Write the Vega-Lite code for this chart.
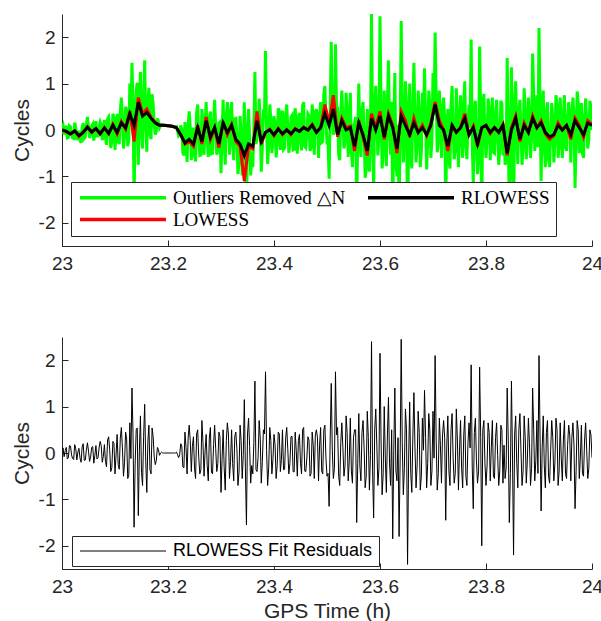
{
"$schema":"https://vega.github.io/schema/vega-lite/v6.json",
"padding":{"left":11,"top":14,"right":0,"bottom":0},
"background":"white",
"config":{
 "view":{"stroke":null},
 "font":"Liberation Sans",
 "axis":{"grid":false,"domainColor":"#262626","domainWidth":1,"tickColor":"#262626","tickSize":-6,"labelColor":"#262626","titleColor":"#262626","labelFont":"Liberation Sans","titleFont":"Liberation Sans","labelFontSize":19,"titleFontSize":21,"titleFontWeight":"normal"}
},
"resolve":{"scale":{"color":"independent","x":"independent","y":"independent"},"legend":{"color":"independent"}},
"spacing":64,
"datasets":{
"raw":[
{"t":23.000,"g":0.05,"e":0.05},{"t":23.004,"g":-0.10,"e":-0.08},{"t":23.008,"g":0.09,"e":0.12},{"t":23.012,"g":-0.16,"e":-0.10},{"t":23.016,"g":0.07,"e":0.15},{"t":23.020,"g":-0.17,"e":-0.12},{"t":23.024,"g":0.16,"e":0.18},{"t":23.028,"g":-0.22,"e":-0.15},{"t":23.032,"g":-0.02,"e":0.10},{"t":23.036,"g":-0.28,"e":-0.20},
{"t":23.040,"g":0.15,"e":0.20},{"t":23.044,"g":-0.15,"e":-0.15},{"t":23.048,"g":0.28,"e":0.22},{"t":23.052,"g":-0.17,"e":-0.18},{"t":23.056,"g":0.08,"e":0.12},{"t":23.060,"g":-0.23,"e":-0.22},{"t":23.064,"g":0.19,"e":0.16},{"t":23.068,"g":-0.13,"e":-0.10},{"t":23.072,"g":0.17,"e":0.25},{"t":23.076,"g":-0.22,"e":-0.20},
{"t":23.080,"g":0.22,"e":0.18},{"t":23.084,"g":-0.32,"e":-0.30},{"t":23.088,"g":0.28,"e":0.35},{"t":23.092,"g":-0.39,"e":-0.40},{"t":23.096,"g":0.35,"e":0.25},{"t":23.100,"g":-0.43,"e":-0.45},{"t":23.104,"g":0.35,"e":0.40},{"t":23.108,"g":-0.30,"e":-0.35},{"t":23.112,"g":0.70,"e":0.55},{"t":23.116,"g":-0.40,"e":-0.50},
{"t":23.120,"g":0.50,"e":0.45},{"t":23.124,"g":-0.35,"e":-0.55},{"t":23.128,"g":1.00,"e":0.65},{"t":23.132,"g":1.45,"e":1.40},{"t":23.136,"g":-1.50,"e":-1.60},{"t":23.140,"g":0.85,"e":0.50},{"t":23.144,"g":-0.75,"e":-1.35},{"t":23.148,"g":1.25,"e":0.80},{"t":23.152,"g":-0.40,"e":-0.70},{"t":23.156,"g":1.50,"e":1.05},
{"t":23.160,"g":-0.47,"e":-0.85},{"t":23.164,"g":0.91,"e":0.60},{"t":23.168,"g":-0.20,"e":-0.45},{"t":23.172,"g":0.55,"e":0.35},{"t":23.176,"g":-0.10,"e":-0.25},{"t":23.180,"g":0.25,"e":0.12},{"t":23.184,"g":0.05,"e":-0.05},{"t":23.188,"g":0.12,"e":0.02},{"t":23.192,"g":0.10,"e":0.00},{"t":23.196,"g":0.10,"e":0.00},
{"t":23.200,"g":0.09,"e":0.00},{"t":23.204,"g":0.085,"e":0.00},{"t":23.208,"g":0.08,"e":0.00},{"t":23.212,"g":0.065,"e":0.00},{"t":23.216,"g":0.07,"e":0.02},{"t":23.220,"g":-0.125,"e":-0.10},{"t":23.224,"g":0.10,"e":0.20},{"t":23.228,"g":-0.49,"e":-0.30},{"t":23.232,"g":0.17,"e":0.45},{"t":23.236,"g":-0.69,"e":-0.45},
{"t":23.240,"g":0.40,"e":0.60},{"t":23.244,"g":-0.65,"e":-0.40},{"t":23.248,"g":0.05,"e":0.35},{"t":23.252,"g":-0.68,"e":-0.55},{"t":23.256,"g":0.55,"e":0.50},{"t":23.260,"g":-0.55,"e":-0.45},{"t":23.264,"g":0.45,"e":0.70},{"t":23.268,"g":-0.53,"e":-0.50},{"t":23.272,"g":0.60,"e":0.40},{"t":23.276,"g":-0.58,"e":-0.60},
{"t":23.280,"g":0.40,"e":0.55},{"t":23.284,"g":-0.50,"e":-0.45},{"t":23.288,"g":0.65,"e":0.60},{"t":23.292,"g":-0.53,"e":-0.40},{"t":23.296,"g":0.15,"e":0.45},{"t":23.300,"g":-0.93,"e":-0.85},{"t":23.304,"g":0.65,"e":0.50},{"t":23.308,"g":-0.75,"e":-0.80},{"t":23.312,"g":0.60,"e":0.65},{"t":23.316,"g":-0.53,"e":-0.55},
{"t":23.320,"g":0.60,"e":0.50},{"t":23.324,"g":-0.65,"e":-0.60},{"t":23.328,"g":0.25,"e":0.45},{"t":23.332,"g":-0.95,"e":-0.70},{"t":23.336,"g":0.30,"e":0.60},{"t":23.340,"g":-0.98,"e":-0.55},{"t":23.344,"g":0.60,"e":1.15},{"t":23.348,"g":-1.98,"e":-1.55},{"t":23.352,"g":0.45,"e":0.75},{"t":23.356,"g":-0.98,"e":-0.65},
{"t":23.360,"g":-0.80,"e":-0.45},{"t":23.364,"g":1.25,"e":1.55},{"t":23.368,"g":-0.20,"e":-0.40},{"t":23.372,"g":0.68,"e":0.70},{"t":23.376,"g":-0.90,"e":-0.65},{"t":23.380,"g":0.35,"e":0.50},{"t":23.384,"g":1.70,"e":1.75},{"t":23.388,"g":-0.73,"e":-0.70},{"t":23.392,"g":0.55,"e":0.55},{"t":23.396,"g":-0.50,"e":-0.45},
{"t":23.400,"g":0.30,"e":0.40},{"t":23.404,"g":-0.59,"e":-0.55},{"t":23.408,"g":0.47,"e":0.45},{"t":23.412,"g":-0.43,"e":-0.40},{"t":23.416,"g":0.42,"e":0.50},{"t":23.420,"g":-0.39,"e":-0.35},{"t":23.424,"g":0.55,"e":0.55},{"t":23.428,"g":-0.49,"e":-0.45},{"t":23.432,"g":0.27,"e":0.35},{"t":23.436,"g":-0.43,"e":-0.40},
{"t":23.440,"g":0.47,"e":0.45},{"t":23.444,"g":-0.51,"e":-0.50},{"t":23.448,"g":0.37,"e":0.40},{"t":23.452,"g":-0.44,"e":-0.45},{"t":23.456,"g":0.60,"e":0.55},{"t":23.460,"g":-0.38,"e":-0.40},{"t":23.464,"g":0.35,"e":0.35},{"t":23.468,"g":-0.45,"e":-0.50},{"t":23.472,"g":0.55,"e":0.45},{"t":23.476,"g":-0.53,"e":-0.55},
{"t":23.480,"g":0.45,"e":0.50},{"t":23.484,"g":-0.60,"e":-0.60},{"t":23.488,"g":0.60,"e":0.55},{"t":23.492,"g":-0.25,"e":-0.45},{"t":23.496,"g":0.95,"e":0.60},{"t":23.500,"g":-0.28,"e":-0.50},{"t":23.504,"g":-1.05,"e":-1.15},{"t":23.508,"g":1.90,"e":1.50},{"t":23.512,"g":-0.10,"e":-0.55},{"t":23.516,"g":1.85,"e":1.75},
{"t":23.520,"g":0.45,"e":0.55},{"t":23.524,"g":-0.65,"e":-0.70},{"t":23.528,"g":0.85,"e":0.65},{"t":23.532,"g":-0.40,"e":-0.50},{"t":23.536,"g":0.80,"e":0.80},{"t":23.540,"g":-0.58,"e":-0.60},{"t":23.544,"g":0.80,"e":0.75},{"t":23.548,"g":-0.80,"e":-0.65},{"t":23.552,"g":0.15,"e":0.50},{"t":23.556,"g":-1.60,"e":-1.50},
{"t":23.560,"g":1.00,"e":0.85},{"t":23.564,"g":-0.58,"e":-0.60},{"t":23.568,"g":0.60,"e":0.70},{"t":23.572,"g":-1.03,"e":-0.75},{"t":23.576,"g":0.45,"e":0.90},{"t":23.580,"g":-0.90,"e":-0.80},{"t":23.584,"g":2.50,"e":2.40},{"t":23.588,"g":-1.28,"e":-1.40},{"t":23.592,"g":0.95,"e":0.95},{"t":23.596,"g":-0.55,"e":-0.70},
{"t":23.600,"g":2.45,"e":2.15},{"t":23.604,"g":-0.83,"e":-0.90},{"t":23.608,"g":0.85,"e":1.00},{"t":23.612,"g":-0.78,"e":-0.85},{"t":23.616,"g":1.50,"e":1.20},{"t":23.620,"g":-0.53,"e":-0.70},{"t":23.624,"g":-1.80,"e":-1.85},{"t":23.628,"g":1.23,"e":1.40},{"t":23.632,"g":-1.00,"e":-0.60},{"t":23.636,"g":-1.85,"e":-1.80},
{"t":23.640,"g":2.35,"e":2.45},{"t":23.644,"g":-0.70,"e":-0.90},{"t":23.648,"g":1.05,"e":0.95},{"t":23.652,"g":-2.30,"e":-2.40},{"t":23.656,"g":1.00,"e":1.10},{"t":23.660,"g":-0.83,"e":-0.85},{"t":23.664,"g":1.45,"e":1.30},{"t":23.668,"g":-0.70,"e":-0.75},{"t":23.672,"g":0.85,"e":0.90},{"t":23.676,"g":-0.80,"e":-0.80},
{"t":23.680,"g":0.80,"e":0.75},{"t":23.684,"g":1.33,"e":1.35},{"t":23.688,"g":-0.85,"e":-0.75},{"t":23.692,"g":0.85,"e":0.85},{"t":23.696,"g":-0.60,"e":-0.70},{"t":23.700,"g":1.23,"e":0.90},{"t":23.704,"g":2.10,"e":2.10},{"t":23.708,"g":-0.48,"e":-0.80},{"t":23.712,"g":0.85,"e":0.75},{"t":23.716,"g":-0.60,"e":-0.65},
{"t":23.720,"g":0.70,"e":0.70},{"t":23.724,"g":-1.63,"e":-1.45},{"t":23.728,"g":0.45,"e":0.80},{"t":23.732,"g":-0.83,"e":-0.70},{"t":23.736,"g":0.95,"e":0.85},{"t":23.740,"g":-0.63,"e":-0.65},{"t":23.744,"g":0.90,"e":0.95},{"t":23.748,"g":-0.80,"e":-0.80},{"t":23.752,"g":0.75,"e":0.70},{"t":23.756,"g":-0.60,"e":-0.75},
{"t":23.760,"g":1.05,"e":0.80},{"t":23.764,"g":-0.63,"e":-0.70},{"t":23.768,"g":0.55,"e":0.65},{"t":23.772,"g":1.95,"e":1.90},{"t":23.776,"g":-1.15,"e":-1.20},{"t":23.780,"g":0.63,"e":0.75},{"t":23.784,"g":-0.95,"e":-0.65},{"t":23.788,"g":1.80,"e":1.85},{"t":23.792,"g":-1.95,"e":-2.00},{"t":23.796,"g":0.78,"e":0.70},
{"t":23.800,"g":-0.60,"e":-0.70},{"t":23.804,"g":0.68,"e":0.65},{"t":23.808,"g":-0.65,"e":-0.60},{"t":23.812,"g":0.70,"e":0.70},{"t":23.816,"g":-0.50,"e":-0.55},{"t":23.820,"g":0.65,"e":0.65},{"t":23.824,"g":-0.75,"e":-0.70},{"t":23.828,"g":0.63,"e":0.60},{"t":23.832,"g":-0.55,"e":-0.65},{"t":23.836,"g":-0.75,"e":-0.55},
{"t":23.840,"g":1.55,"e":1.40},{"t":23.844,"g":-1.75,"e":-1.50},{"t":23.848,"g":1.35,"e":1.55},{"t":23.852,"g":-2.30,"e":-2.20},{"t":23.856,"g":1.05,"e":0.80},{"t":23.860,"g":-0.73,"e":-0.75},{"t":23.864,"g":0.65,"e":0.85},{"t":23.868,"g":-0.75,"e":-0.70},{"t":23.872,"g":0.90,"e":0.80},{"t":23.876,"g":-0.63,"e":-0.65},
{"t":23.880,"g":0.70,"e":0.75},{"t":23.884,"g":-0.60,"e":-0.70},{"t":23.888,"g":1.65,"e":1.40},{"t":23.892,"g":-0.45,"e":-0.60},{"t":23.896,"g":0.75,"e":0.70},{"t":23.900,"g":2.20,"e":2.10},{"t":23.904,"g":-1.10,"e":-1.25},{"t":23.908,"g":0.85,"e":0.80},{"t":23.912,"g":-0.80,"e":-0.75},{"t":23.916,"g":0.60,"e":0.70},
{"t":23.920,"g":-0.80,"e":-0.65},{"t":23.924,"g":0.58,"e":0.70},{"t":23.928,"g":-0.70,"e":-0.60},{"t":23.932,"g":0.75,"e":0.75},{"t":23.936,"g":-0.60,"e":-0.70},{"t":23.940,"g":0.70,"e":0.65},{"t":23.944,"g":-0.60,"e":-0.60},{"t":23.948,"g":0.75,"e":0.70},{"t":23.952,"g":-0.45,"e":-0.55},{"t":23.956,"g":0.60,"e":0.60},
{"t":23.960,"g":-0.70,"e":-0.60},{"t":23.964,"g":0.70,"e":0.65},{"t":23.968,"g":-1.25,"e":-1.20},{"t":23.972,"g":0.83,"e":0.70},{"t":23.976,"g":-0.50,"e":-0.55},{"t":23.980,"g":0.58,"e":0.60},{"t":23.984,"g":-0.60,"e":-0.50},{"t":23.988,"g":0.68,"e":0.65},{"t":23.992,"g":-0.40,"e":-0.55},{"t":23.996,"g":0.63,"e":0.50},
{"t":24.000,"g":0.00,"e":-0.10},
{"t":23.002,"g":0.10,"e":0.11},{"t":23.006,"g":0.03,"e":0.05},{"t":23.010,"g":-0.17,"e":-0.13},{"t":23.014,"g":0.09,"e":0.16},{"t":23.018,"g":-0.10,"e":-0.04},{"t":23.022,"g":-0.18,"e":-0.14},{"t":23.026,"g":0.05,"e":0.09},{"t":23.030,"g":-0.08,"e":0.02},{"t":23.034,"g":-0.21,"e":-0.11},{"t":23.038,"g":0.06,"e":0.13},
{"t":23.042,"g":-0.18,"e":-0.16},{"t":23.046,"g":0.10,"e":0.07},{"t":23.050,"g":0.08,"e":0.04},{"t":23.054,"g":-0.11,"e":-0.09},{"t":23.058,"g":0.12,"e":0.14},{"t":23.062,"g":-0.04,"e":-0.05},{"t":23.066,"g":-0.13,"e":-0.13},{"t":23.070,"g":0.06,"e":0.11},{"t":23.074,"g":0.11,"e":0.16},{"t":23.078,"g":-0.06,"e":-0.07},
{"t":23.082,"g":-0.17,"e":-0.18},{"t":23.086,"g":0.24,"e":0.28},{"t":23.090,"g":0.04,"e":0.07},{"t":23.094,"g":-0.26,"e":-0.32},{"t":23.098,"g":0.27,"e":0.21},{"t":23.102,"g":-0.05,"e":-0.04},{"t":23.106,"g":-0.25,"e":-0.25},{"t":23.110,"g":0.42,"e":0.32},{"t":23.114,"g":0.24,"e":0.11},{"t":23.118,"g":-0.14,"e":-0.21},
{"t":23.122,"g":0.43,"e":0.30},{"t":23.126,"g":-0.21,"e":-0.48},{"t":23.130,"g":0.17,"e":-0.12},{"t":23.134,"g":0.58,"e":0.42},{"t":23.138,"g":-0.02,"e":-0.24},{"t":23.142,"g":1.02,"e":0.54},{"t":23.146,"g":0.59,"e":0.06},{"t":23.150,"g":-0.05,"e":-0.42},{"t":23.154,"g":0.68,"e":0.36},{"t":23.158,"g":0.18,"e":-0.18},
{"t":23.162,"g":0.59,"e":0.24},{"t":23.166,"g":-0.08,"e":-0.36},{"t":23.170,"g":0.77,"e":0.54},{"t":23.174,"g":0.09,"e":-0.09},{"t":23.178,"g":-0.02,"e":-0.16},{"t":23.182,"g":0.18,"e":0.07},{"t":23.186,"g":0.10,"e":0.00},{"t":23.190,"g":0.10,"e":0.00},{"t":23.194,"g":0.10,"e":0.00},{"t":23.198,"g":0.09,"e":0.00},
{"t":23.202,"g":0.09,"e":0.00},{"t":23.206,"g":0.08,"e":0.00},{"t":23.210,"g":0.07,"e":0.00},{"t":23.214,"g":0.06,"e":0.00},{"t":23.218,"g":-0.025,"e":-0.035},{"t":23.222,"g":-0.10,"e":-0.04},{"t":23.226,"g":0.005,"e":0.15},{"t":23.230,"g":-0.55,"e":-0.32},{"t":23.234,"g":-0.14,"e":0.12},{"t":23.238,"g":0.10,"e":0.32},
{"t":23.242,"g":0.05,"e":0.27},{"t":23.246,"g":-0.14,"e":0.14},{"t":23.250,"g":-0.53,"e":-0.32},{"t":23.254,"g":0.37,"e":0.41},{"t":23.258,"g":-0.12,"e":-0.09},{"t":23.262,"g":-0.54,"e":-0.36},{"t":23.266,"g":0.09,"e":0.23},{"t":23.270,"g":0.14,"e":0.05},{"t":23.274,"g":-0.16,"e":-0.27},{"t":23.278,"g":0.26,"e":0.32},
{"t":23.282,"g":-0.51,"e":-0.41},{"t":23.286,"g":0.18,"e":0.18},{"t":23.290,"g":0.05,"e":0.09},{"t":23.294,"g":-0.44,"e":-0.23},{"t":23.298,"g":0.17,"e":0.36},{"t":23.302,"g":-0.10,"e":-0.14},{"t":23.306,"g":-0.22,"e":-0.32},{"t":23.310,"g":0.27,"e":0.27},{"t":23.314,"g":0.40,"e":0.41},{"t":23.318,"g":-0.12,"e":-0.18},
{"t":23.322,"g":-0.21,"e":-0.23},{"t":23.326,"g":0.24,"e":0.36},{"t":23.330,"g":-0.14,"e":0.09},{"t":23.334,"g":-0.69,"e":-0.41},{"t":23.338,"g":-0.09,"e":0.27},{"t":23.342,"g":-0.54,"e":-0.05},{"t":23.346,"g":-0.81,"e":-0.32},{"t":23.350,"g":0.05,"e":0.41},{"t":23.354,"g":-0.17,"e":0.14},{"t":23.358,"g":-0.61,"e":-0.27},
{"t":23.362,"g":0.02,"e":0.23},{"t":23.366,"g":-0.30,"e":-0.36},{"t":23.370,"g":0.00,"e":-0.09},{"t":23.374,"g":0.18,"e":0.32},{"t":23.378,"g":-0.38,"e":-0.18},{"t":23.382,"g":0.31,"e":0.41},{"t":23.386,"g":0.01,"e":0.05},{"t":23.390,"g":-0.33,"e":-0.32},{"t":23.394,"g":0.25,"e":0.27},{"t":23.398,"g":-0.22,"e":-0.14},
{"t":23.402,"g":0.11,"e":0.18},{"t":23.406,"g":-0.28,"e":-0.27},{"t":23.410,"g":0.41,"e":0.41},{"t":23.414,"g":-0.20,"e":-0.14},{"t":23.418,"g":-0.42,"e":-0.36},{"t":23.422,"g":0.30,"e":0.32},{"t":23.426,"g":0.07,"e":0.09},{"t":23.430,"g":-0.29,"e":-0.23},{"t":23.434,"g":0.31,"e":0.36},{"t":23.438,"g":-0.42,"e":-0.41},
{"t":23.442,"g":0.06,"e":0.05},{"t":23.446,"g":0.25,"e":0.27},{"t":23.450,"g":-0.23,"e":-0.22},{"t":23.454,"g":0.53,"e":0.50},{"t":23.458,"g":-0.35,"e":-0.39},{"t":23.462,"g":-0.10,"e":-0.11},{"t":23.466,"g":0.31,"e":0.28},{"t":23.470,"g":-0.37,"e":-0.44},{"t":23.474,"g":0.23,"e":0.17},{"t":23.478,"g":0.38,"e":0.39},
{"t":23.482,"g":0.31,"e":0.33},{"t":23.486,"g":0.20,"e":0.17},{"t":23.490,"g":-0.27,"e":-0.39},{"t":23.494,"g":0.78,"e":0.50},{"t":23.498,"g":0.18,"e":-0.11},{"t":23.502,"g":-0.28,"e":-0.44},{"t":23.506,"g":0.47,"e":0.28},{"t":23.510,"g":0.42,"e":0.06},{"t":23.514,"g":-0.02,"e":-0.33},{"t":23.518,"g":0.43,"e":0.39},
{"t":23.522,"g":-0.53,"e":-0.50},{"t":23.526,"g":0.35,"e":0.22},{"t":23.530,"g":0.26,"e":0.11},{"t":23.534,"g":-0.23,"e":-0.28},{"t":23.538,"g":0.45,"e":0.44},{"t":23.542,"g":-0.13,"e":-0.17},{"t":23.546,"g":-0.44,"e":-0.39},{"t":23.550,"g":0.08,"e":0.33},{"t":23.554,"g":0.28,"e":0.50},{"t":23.558,"g":-0.20,"e":-0.22},
{"t":23.562,"g":-0.19,"e":-0.28},{"t":23.566,"g":0.40,"e":0.44},{"t":23.570,"g":-0.08,"e":0.11},{"t":23.574,"g":-0.86,"e":-0.50},{"t":23.578,"g":0.05,"e":0.33},{"t":23.582,"g":0.01,"e":-0.06},{"t":23.586,"g":-0.20,"e":-0.39},{"t":23.590,"g":0.56,"e":0.50},{"t":23.594,"g":0.25,"e":0.17},{"t":23.598,"g":-0.11,"e":-0.33},
{"t":23.602,"g":0.47,"e":0.28},{"t":23.606,"g":-0.48,"e":-0.44},{"t":23.610,"g":-0.15,"e":-0.11},{"t":23.614,"g":0.58,"e":0.39},{"t":23.618,"g":0.02,"e":-0.22},{"t":23.622,"g":0.61,"e":0.50},{"t":23.626,"g":0.00,"e":0.06},{"t":23.630,"g":-0.68,"e":-0.39},{"t":23.634,"g":0.11,"e":0.33},{"t":23.638,"g":-0.05,"e":-0.17},
{"t":23.642,"g":0.47,"e":0.22},{"t":23.646,"g":-0.18,"e":-0.33},{"t":23.650,"g":0.55,"e":0.50},{"t":23.654,"g":-0.22,"e":-0.17},{"t":23.658,"g":-0.48,"e":-0.44},{"t":23.662,"g":0.48,"e":0.39},{"t":23.666,"g":0.21,"e":0.11},{"t":23.670,"g":-0.28,"e":-0.28},{"t":23.674,"g":0.42,"e":0.44},{"t":23.678,"g":-0.48,"e":-0.50},
{"t":23.682,"g":0.07,"e":0.06},{"t":23.686,"g":0.27,"e":0.33},{"t":23.690,"g":-0.27,"e":-0.22},{"t":23.694,"g":0.55,"e":0.50},{"t":23.698,"g":-0.18,"e":-0.39},{"t":23.702,"g":0.33,"e":-0.11},{"t":23.706,"g":0.72,"e":0.28},{"t":23.710,"g":-0.23,"e":-0.44},{"t":23.714,"g":0.25,"e":0.17},{"t":23.718,"g":0.42,"e":0.39},
{"t":23.722,"g":0.24,"e":0.33},{"t":23.726,"g":-0.09,"e":0.17},{"t":23.730,"g":-0.63,"e":-0.39},{"t":23.734,"g":0.49,"e":0.50},{"t":23.738,"g":-0.05,"e":-0.11},{"t":23.742,"g":-0.45,"e":-0.44},{"t":23.746,"g":0.26,"e":0.28},{"t":23.750,"g":0.09,"e":0.06},{"t":23.754,"g":-0.23,"e":-0.33},{"t":23.758,"g":0.59,"e":0.39},
{"t":23.762,"g":-0.34,"e":-0.50},{"t":23.766,"g":0.21,"e":0.22},{"t":23.770,"g":0.05,"e":0.11},{"t":23.774,"g":-0.27,"e":-0.28},{"t":23.778,"g":0.40,"e":0.44},{"t":23.782,"g":-0.38,"e":-0.17},{"t":23.786,"g":-0.60,"e":-0.39},{"t":23.790,"g":0.29,"e":0.33},{"t":23.794,"g":0.56,"e":0.50},{"t":23.798,"g":-0.13,"e":-0.22},
{"t":23.802,"g":-0.22,"e":-0.28},{"t":23.806,"g":0.44,"e":0.44},{"t":23.810,"g":0.09,"e":0.11},{"t":23.814,"g":-0.48,"e":-0.50},{"t":23.818,"g":0.36,"e":0.33},{"t":23.822,"g":-0.09,"e":-0.06},{"t":23.826,"g":-0.40,"e":-0.39},{"t":23.830,"g":0.56,"e":0.50},{"t":23.834,"g":0.12,"e":0.17},{"t":23.838,"g":-0.68,"e":-0.33},
{"t":23.842,"g":-0.10,"e":0.28},{"t":23.846,"g":-0.57,"e":-0.44},{"t":23.850,"g":-0.05,"e":-0.11},{"t":23.854,"g":0.58,"e":0.39},{"t":23.858,"g":-0.08,"e":-0.22},{"t":23.862,"g":0.41,"e":0.50},{"t":23.866,"g":-0.07,"e":0.06},{"t":23.870,"g":-0.37,"e":-0.39},{"t":23.874,"g":0.39,"e":0.33},{"t":23.878,"g":-0.18,"e":-0.17},
{"t":23.882,"g":0.25,"e":0.22},{"t":23.886,"g":-0.16,"e":-0.33},{"t":23.890,"g":0.70,"e":0.50},{"t":23.894,"g":-0.07,"e":-0.17},{"t":23.898,"g":-0.37,"e":-0.44},{"t":23.902,"g":0.52,"e":0.39},{"t":23.906,"g":0.21,"e":0.11},{"t":23.910,"g":-0.28,"e":-0.28},{"t":23.914,"g":0.37,"e":0.44},{"t":23.918,"g":-0.63,"e":-0.50},
{"t":23.922,"g":-0.08,"e":0.06},{"t":23.926,"g":0.22,"e":0.33},{"t":23.930,"g":-0.27,"e":-0.22},{"t":23.934,"g":0.55,"e":0.50},{"t":23.938,"g":-0.32,"e":-0.39},{"t":23.942,"g":-0.09,"e":-0.11},{"t":23.946,"g":0.31,"e":0.28},{"t":23.950,"g":-0.37,"e":-0.44},{"t":23.954,"g":0.22,"e":0.17},{"t":23.958,"g":0.34,"e":0.39},
{"t":23.962,"g":0.31,"e":0.33},{"t":23.966,"g":0.30,"e":0.17},{"t":23.970,"g":-0.23,"e":-0.39},{"t":23.974,"g":0.59,"e":0.50},{"t":23.978,"g":-0.10,"e":-0.11},{"t":23.982,"g":-0.50,"e":-0.44},{"t":23.986,"g":0.24,"e":0.28},{"t":23.990,"g":0.15,"e":0.06},{"t":23.994,"g":-0.19,"e":-0.33},{"t":23.998,"g":0.50,"e":0.39}
],
"fit":[
{"t":23.000,"l":0.00,"r":0.00},{"t":23.008,"l":-0.03,"r":-0.03},{"t":23.016,"l":-0.09,"r":-0.08},{"t":23.024,"l":-0.02,"r":-0.02},{"t":23.032,"l":-0.14,"r":-0.12},{"t":23.040,"l":-0.05,"r":-0.05},{"t":23.048,"l":0.07,"r":0.06},{"t":23.056,"l":-0.05,"r":-0.04},{"t":23.064,"l":0.03,"r":0.03},{"t":23.072,"l":-0.09,"r":-0.08},
{"t":23.080,"l":0.05,"r":0.04},{"t":23.088,"l":-0.08,"r":-0.07},{"t":23.096,"l":0.12,"r":0.10},{"t":23.104,"l":-0.08,"r":-0.05},{"t":23.112,"l":0.18,"r":0.15},{"t":23.120,"l":0.02,"r":0.05},{"t":23.128,"l":0.40,"r":0.35},{"t":23.136,"l":-0.25,"r":0.10},{"t":23.144,"l":0.70,"r":0.60},{"t":23.152,"l":0.35,"r":0.30},
{"t":23.160,"l":0.45,"r":0.38},{"t":23.168,"l":0.27,"r":0.25},{"t":23.176,"l":0.16,"r":0.15},{"t":23.184,"l":0.10,"r":0.10},{"t":23.192,"l":0.10,"r":0.10},{"t":23.200,"l":0.09,"r":0.09},{"t":23.208,"l":0.08,"r":0.08},{"t":23.216,"l":0.05,"r":0.05},{"t":23.224,"l":-0.10,"r":-0.10},{"t":23.232,"l":-0.30,"r":-0.28},
{"t":23.240,"l":-0.25,"r":-0.20},{"t":23.248,"l":-0.35,"r":-0.30},{"t":23.256,"l":0.10,"r":0.05},{"t":23.264,"l":-0.30,"r":-0.25},{"t":23.272,"l":0.28,"r":0.20},{"t":23.280,"l":-0.20,"r":-0.15},{"t":23.288,"l":0.05,"r":0.05},{"t":23.296,"l":-0.38,"r":-0.30},{"t":23.304,"l":0.18,"r":0.15},{"t":23.312,"l":-0.10,"r":-0.05},
{"t":23.320,"l":0.12,"r":0.10},{"t":23.328,"l":-0.25,"r":-0.20},{"t":23.336,"l":-0.35,"r":-0.30},{"t":23.344,"l":-1.10,"r":-0.55},{"t":23.352,"l":-0.35,"r":-0.30},{"t":23.360,"l":-0.40,"r":-0.35},{"t":23.368,"l":0.40,"r":0.20},{"t":23.376,"l":-0.30,"r":-0.25},{"t":23.384,"l":-0.05,"r":-0.05},{"t":23.392,"l":0.02,"r":0.00},
{"t":23.400,"l":-0.12,"r":-0.10},{"t":23.408,"l":0.03,"r":0.02},{"t":23.416,"l":-0.10,"r":-0.08},{"t":23.424,"l":0.01,"r":0.00},{"t":23.432,"l":-0.10,"r":-0.08},{"t":23.440,"l":0.03,"r":0.02},{"t":23.448,"l":-0.03,"r":-0.03},{"t":23.456,"l":0.06,"r":0.05},{"t":23.464,"l":0.00,"r":0.00},{"t":23.472,"l":0.12,"r":0.10},
{"t":23.480,"l":-0.05,"r":-0.05},{"t":23.488,"l":0.05,"r":0.05},{"t":23.496,"l":0.55,"r":0.35},{"t":23.504,"l":0.15,"r":0.10},{"t":23.512,"l":0.75,"r":0.45},{"t":23.520,"l":-0.15,"r":-0.10},{"t":23.528,"l":0.25,"r":0.20},{"t":23.536,"l":0.05,"r":0.00},{"t":23.544,"l":0.08,"r":0.05},{"t":23.552,"l":-0.45,"r":-0.35},
{"t":23.560,"l":0.20,"r":0.15},{"t":23.568,"l":-0.15,"r":-0.10},{"t":23.576,"l":-0.55,"r":-0.45},{"t":23.584,"l":0.35,"r":0.25},{"t":23.592,"l":0.05,"r":0.00},{"t":23.600,"l":0.40,"r":0.30},{"t":23.608,"l":-0.20,"r":-0.15},{"t":23.616,"l":0.35,"r":0.30},{"t":23.624,"l":0.10,"r":0.05},{"t":23.632,"l":-0.50,"r":-0.40},
{"t":23.640,"l":0.40,"r":0.30},{"t":23.648,"l":0.20,"r":0.10},{"t":23.656,"l":-0.15,"r":-0.10},{"t":23.664,"l":0.25,"r":0.15},{"t":23.672,"l":-0.05,"r":-0.05},{"t":23.680,"l":0.10,"r":0.05},{"t":23.688,"l":-0.12,"r":-0.10},{"t":23.696,"l":0.15,"r":0.10},{"t":23.704,"l":0.60,"r":0.55},{"t":23.712,"l":0.20,"r":0.10},
{"t":23.720,"l":0.00,"r":0.00},{"t":23.728,"l":-0.45,"r":-0.35},{"t":23.736,"l":0.10,"r":0.10},{"t":23.744,"l":-0.05,"r":-0.05},{"t":23.752,"l":0.05,"r":0.05},{"t":23.760,"l":0.35,"r":0.25},{"t":23.768,"l":-0.10,"r":-0.10},{"t":23.776,"l":0.08,"r":0.05},{"t":23.784,"l":-0.35,"r":-0.30},{"t":23.792,"l":0.05,"r":0.05},
{"t":23.800,"l":0.10,"r":0.10},{"t":23.808,"l":-0.08,"r":-0.05},{"t":23.816,"l":0.05,"r":0.05},{"t":23.824,"l":-0.05,"r":-0.05},{"t":23.832,"l":0.12,"r":0.10},{"t":23.840,"l":-0.55,"r":-0.50},{"t":23.848,"l":0.05,"r":0.00},{"t":23.856,"l":0.30,"r":0.25},{"t":23.864,"l":-0.25,"r":-0.20},{"t":23.872,"l":0.15,"r":0.10},
{"t":23.880,"l":-0.05,"r":-0.05},{"t":23.888,"l":0.30,"r":0.25},{"t":23.896,"l":0.05,"r":0.05},{"t":23.904,"l":0.20,"r":0.15},{"t":23.912,"l":-0.08,"r":-0.05},{"t":23.920,"l":-0.20,"r":-0.15},{"t":23.928,"l":-0.12,"r":-0.10},{"t":23.936,"l":0.15,"r":0.10},{"t":23.944,"l":0.00,"r":0.00},{"t":23.952,"l":0.10,"r":0.10},
{"t":23.960,"l":-0.20,"r":-0.10},{"t":23.968,"l":0.25,"r":0.20},{"t":23.976,"l":0.10,"r":0.05},{"t":23.984,"l":-0.15,"r":-0.10},{"t":23.992,"l":0.20,"r":0.15},{"t":24.000,"l":0.12,"r":0.10}
]
},
"vconcat":[
{
 "width":530,"height":232,
 "layer":[
  {"data":{"name":"raw"},"transform":[{"fold":["g"],"as":["k","v"]}],
   "mark":{"type":"line","strokeWidth":3,"clip":true},
   "encoding":{
    "x":{"field":"t","type":"quantitative","scale":{"domain":[23,24],"nice":false},"axis":{"values":[23,23.2,23.4,23.6,23.8,24],"labelExpr":"''+datum.value","title":null,"labelPadding":14,"labelFlush":false}},
    "y":{"field":"v","type":"quantitative","scale":{"domain":[-2.5,2.5],"nice":false},"axis":{"values":[-2,-1,0,1,2],"labelExpr":"''+datum.value","title":"Cycles","labelPadding":13,"titlePadding":6}},
    "color":{"field":"k","type":"nominal","scale":{"domain":["g","r","l"],"range":["#00ff00","#000000","#ff0000"]},
     "legend":{"orient":"none","direction":"horizontal","legendX":9,"legendY":168,"title":null,"columns":2,"values":["g","r","l"],"symbolType":"M-8.6,0H8.6","symbolSize":100,"symbolStrokeWidth":3.5,"labelFont":"Liberation Serif","labelFontSize":19,"labelColor":"#000000","labelLimit":0,"labelOffset":40.5,"symbolOffset":36.5,"padding":6,"rowPadding":2,"columnPadding":15,"strokeColor":"#262626","fillColor":"#ffffff","labelExpr":"datum.value=='g'?'Outliers Removed △N':datum.value=='r'?'RLOWESS  ':'LOWESS'"}}
   }},
  {"data":{"name":"fit"},"transform":[{"fold":["l"],"as":["k","v"]}],
   "mark":{"type":"line","strokeWidth":3,"clip":true},
   "encoding":{"x":{"field":"t","type":"quantitative"},"y":{"field":"v","type":"quantitative"},"color":{"field":"k","type":"nominal"}}},
  {"data":{"name":"fit"},"transform":[{"fold":["r"],"as":["k","v"]}],
   "mark":{"type":"line","strokeWidth":3,"clip":true},
   "encoding":{"x":{"field":"t","type":"quantitative"},"y":{"field":"v","type":"quantitative"},"color":{"field":"k","type":"nominal"}}}
 ]
},
{
 "width":530,"height":232,
 "data":{"name":"raw"},
 "transform":[{"fold":["e"],"as":["k","v"]}],
 "mark":{"type":"line","strokeWidth":1,"clip":true},
 "encoding":{
  "x":{"field":"t","type":"quantitative","scale":{"domain":[23,24],"nice":false},"axis":{"values":[23,23.2,23.4,23.6,23.8,24],"labelExpr":"''+datum.value","title":"GPS Time (h)","labelPadding":14,"labelFlush":false,"titlePadding":4}},
  "y":{"field":"v","type":"quantitative","scale":{"domain":[-2.5,2.5],"nice":false},"axis":{"values":[-2,-1,0,1,2],"labelExpr":"''+datum.value","title":"Cycles","labelPadding":13,"titlePadding":6}},
  "color":{"field":"k","type":"nominal","scale":{"domain":["e"],"range":["#000000"]},
   "legend":{"orient":"none","legendX":10,"legendY":199,"title":null,"symbolType":"M-8.6,0H8.6","symbolSize":100,"symbolStrokeWidth":1,"labelFont":"Liberation Sans","labelFontSize":18,"labelColor":"#000000","labelLimit":0,"labelOffset":41,"symbolOffset":36,"padding":6,"strokeColor":"#262626","fillColor":"#ffffff","labelExpr":"'RLOWESS Fit Residuals'"}}
 }
}
]
}
